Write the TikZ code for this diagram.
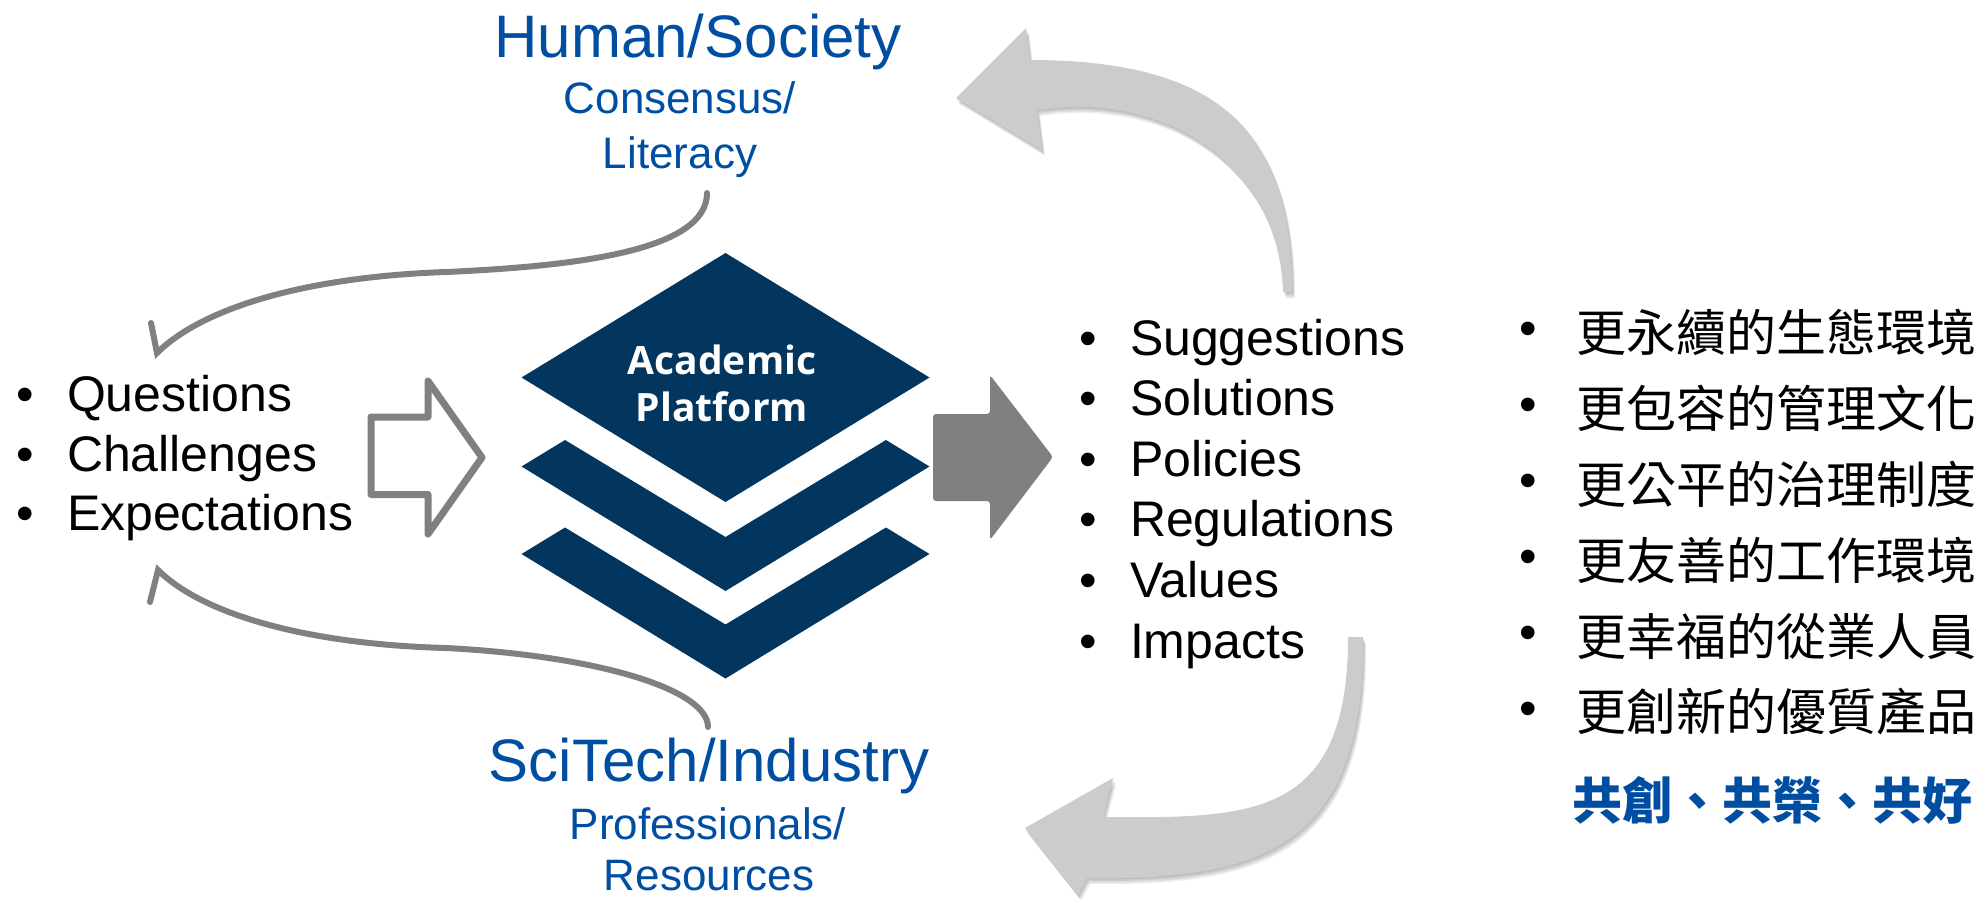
\documentclass[tikz,border=0pt]{standalone}
\usepackage{fontspec}
\setmainfont{Liberation Sans}
\newfontfamily\cjk{Noto Sans CJK TC}
\newfontfamily\osans{Open Sans}
\definecolor{navy}{RGB}{2,54,95}
\definecolor{hblue}{RGB}{0,78,162}
\definecolor{agray}{RGB}{128,128,128}
\definecolor{lgray}{RGB}{204,204,204}
\newcommand\fsz[1]{\fontsize{#1}{#1}\selectfont}
\def\upperarrowpath{(1292,292) .. controls (1292,140) and (1230,60) .. (1030,60) -- (1026,28) -- (956,98) -- (1042,150) -- (1037,110) .. controls (1170,90) and (1280,170) .. (1283,292) -- cycle}
\def\lowerarrowpath{(1363,637) .. controls (1365,850) and (1260,880) .. (1087,878) -- (1078,895) -- (1025,828) -- (1113,778) -- (1103,817) .. controls (1250,818) and (1348,820) .. (1348,637) -- cycle}
\begin{document}
\begin{tikzpicture}[x=1pt,y=-1pt,
  txt/.style={inner sep=0pt,outer sep=0pt},
  listtxt/.style={txt,anchor=base west,font=\fsz{50}},
  bul/.style={txt,anchor=base,font=\fsz{50}},
  cjktxt/.style={txt,anchor=west,font=\cjk\fsz{50}},
  head/.style={txt,anchor=base,font=\fsz{60},text=hblue},
  subhead/.style={txt,anchor=base,font=\fsz{44},text=hblue},
  plat/.style={txt,anchor=base,font=\osans\bfseries\fsz{39},text=white},
  thinarrow/.style={draw=agray,line width=6pt,line cap=round,line join=miter},
  bigarrow/.style={fill=lgray},
  shadowlayer/.style={fill=black,opacity=0.07}]
\useasboundingbox (0,0) rectangle (1985,898);

% big curved arrows with soft shadows
\begin{scope}
\clip (0,0) rectangle (1985,898);
\foreach \s in {1,2,3,4}{
  \fill[shadowlayer,shift={(0.8*\s,1.5*\s)}] \upperarrowpath;
  \fill[shadowlayer,shift={(0.8*\s,1.5*\s)}] \lowerarrowpath;
}
\fill[bigarrow] \upperarrowpath;
\fill[bigarrow] \lowerarrowpath;
\end{scope}

% platform stack
\fill[navy] (725.5,253) -- (929.5,377.5) -- (725.5,502) -- (521.5,377.5) -- cycle;
\foreach \dy in {0,87.5}{
  \fill[navy,shift={(0,\dy)}] (521.5,466.5) -- (565,440) -- (725.5,537) -- (886,440) -- (929.5,466.5) -- (725.5,591) -- cycle;
}
\node[plat] (acad) at (722,374) {Academic};
\node[plat] (platf) at (722,421.5) {Platform};

% open block arrow (input)
\draw[agray,line width=7pt,line join=round,fill=white]
  (371,417) -- (428,417) -- (428,381) -- (482,457.5) -- (428,534) -- (428,494.5) -- (371,494.5) -- cycle;
% filled block arrow (output)
\fill[agray,rounded corners=3pt]
  (933,414) -- (990,414) -- (990,375) -- (1053,457) -- (990,540) -- (990,501) -- (933,501) -- cycle;

% headings
\node[head] (hs) at (698,57) {Human/Society};
\node[subhead] (cons) at (680,113) {Consensus/};
\node[subhead] (lit) at (680,168) {Literacy};
\node[head] (st) at (709,781.5) {SciTech/Industry};
\node[subhead] (prof) at (708,839) {Professionals/};
\node[subhead] (res) at (709,890) {Resources};

% thin curved arrows
\coordinate (hsTail) at (707,193);
\coordinate (qTip) at (157,353);
\coordinate (qBarb) at (151,323);
\draw[thinarrow] (hsTail) .. controls (707,250) and (580,266) .. (446,272) .. controls (300,277) and (200,310) .. (qTip) -- (qBarb);
\coordinate (stTail) at (708,727);
\coordinate (eTip) at (158,570);
\coordinate (eBarb) at (150,602);
\draw[thinarrow] (stTail) .. controls (708,690) and (600,656) .. (446,648) .. controls (300,644) and (200,612) .. (eTip) -- (eBarb);

% left list
\node[bul] (lb1) at (25,411.5) {•};
\node[bul] (lb2) at (25,471) {•};
\node[bul] (lb3) at (25,530.5) {•};
\node[listtxt] (l1) at (67,411.5) {Questions};
\node[listtxt] (l2) at (67,471) {Challenges};
\node[listtxt] (l3) at (67,530.5) {Expectations};

% right list
\foreach \t/\yy [count=\i] in {Suggestions/355,Solutions/415.6,Policies/476.2,Regulations/536.8,Values/597.4,Impacts/658}{
  \node[bul] (rb\i) at (1088,\yy) {•};
  \node[listtxt] (r\i) at (1130,\yy) {\t};
}

% Chinese list
\foreach \t/\yy [count=\i] in {更永續的生態環境/332,更包容的管理文化/408,更公平的治理制度/484,更友善的工作環境/560,更幸福的從業人員/636,更創新的優質產品/712}{
  \node[bul] (cb\i) at (1528,\yy+13.5) {•};
  \node[cjktxt] (c\i) at (1576,\yy) {\t};
}
\node[txt,anchor=west,font=\cjk\bfseries\fsz{50},text=hblue] (motto) at (1572,800) {共創、共榮、共好};
\end{tikzpicture}
\end{document}
